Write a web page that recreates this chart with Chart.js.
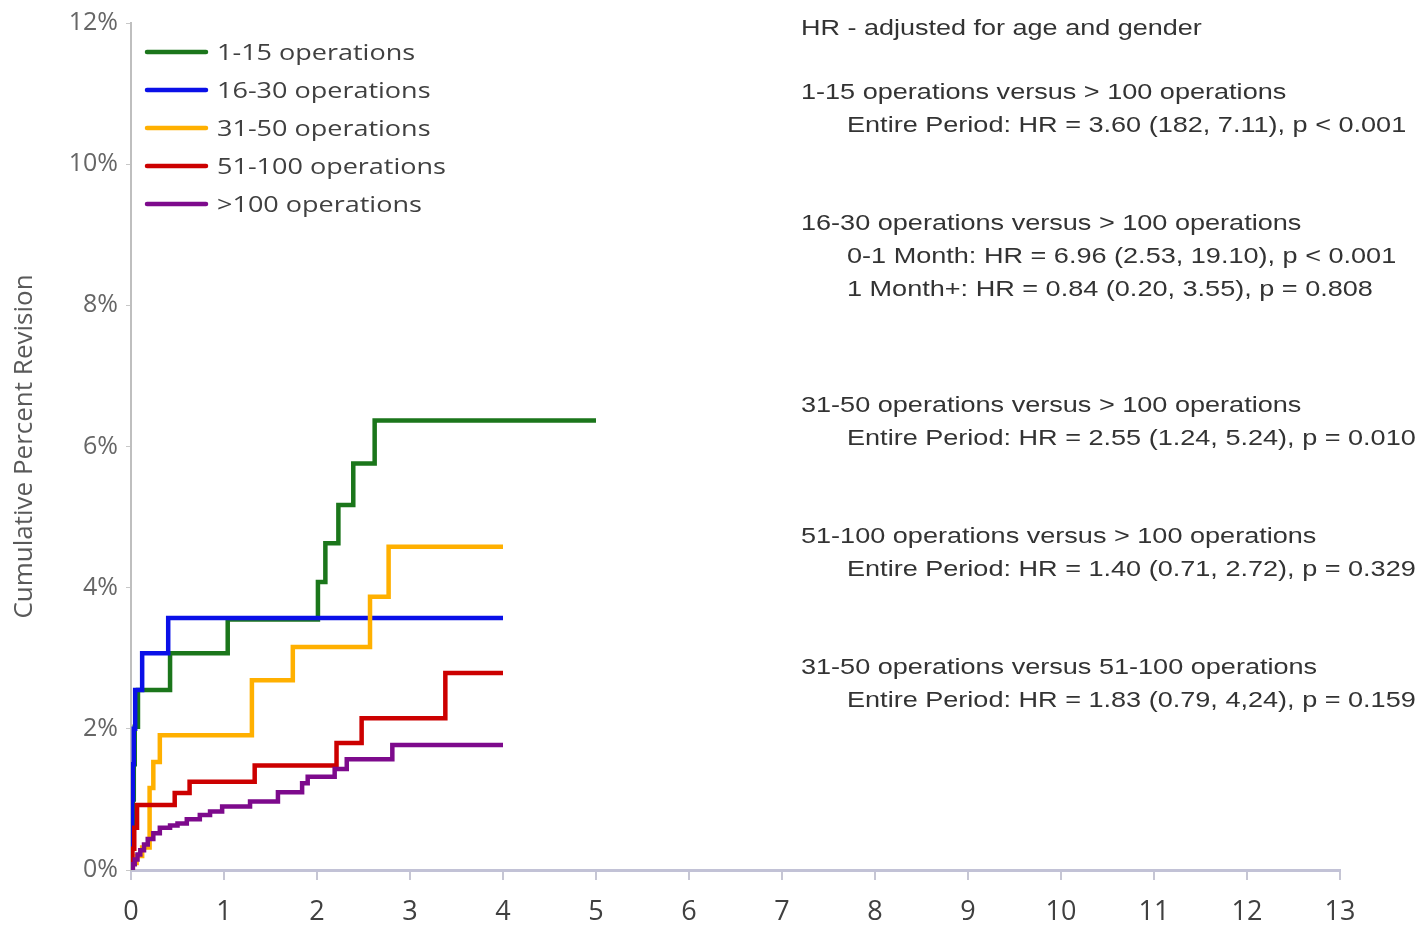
<!DOCTYPE html>
<html>
<head>
<meta charset="utf-8">
<title>Cumulative Percent Revision by surgeon volume</title>
<script src="https://cdn.jsdelivr.net/npm/chart.js@4/dist/chart.umd.min.js"></script>
<style>
  html, body { margin: 0; padding: 0; background: #ffffff; }
  canvas { display: block; }
</style>
</head>
<body>
<canvas id="chart" width="1423" height="926"></canvas>
<script>
// Series labels and colours
const seriesLabels = ['1-15 operations', '16-30 operations', '31-50 operations', '51-100 operations', '>100 operations'];
const seriesColors = ['#1b761b', '#0a10e8', '#ffb000', '#cc0000', '#7d0a8c'];

// Kaplan-Meier style step data: time (x) at which the cumulative revision (%) becomes the value
const ops1to15Time   = [0, 0.01, 0.02, 0.03, 0.04, 0.075, 0.42, 1.04, 2.01, 2.09, 2.23, 2.39, 2.62, 5.0];
const ops1to15Value  = [0, 0.5, 1.0, 1.5, 2.03, 2.55, 3.07, 3.55, 4.08, 4.63, 5.17, 5.76, 6.37, 6.37];

const ops16to30Time  = [0, 0.005, 0.012, 0.02, 0.03, 0.045, 0.12, 0.4, 4.0];
const ops16to30Value = [0, 0.5, 1.0, 1.5, 2.0, 2.55, 3.07, 3.57, 3.57];

const ops31to50Time  = [0, 0.02, 0.06, 0.12, 0.2, 0.24, 0.31, 1.3, 1.74, 2.57, 2.77, 4.0];
const ops31to50Value = [0, 0.1, 0.2, 0.32, 1.16, 1.53, 1.91, 2.69, 3.16, 3.87, 4.58, 4.58];

const ops51to100Time  = [0, 0.015, 0.035, 0.065, 0.47, 0.63, 1.33, 2.21, 2.48, 3.38, 4.0];
const ops51to100Value = [0, 0.3, 0.6, 0.92, 1.09, 1.25, 1.48, 1.8, 2.15, 2.79, 2.79];

const opsOver100Time  = [0, 0.02, 0.04, 0.07, 0.1, 0.14, 0.18, 0.24, 0.31, 0.42, 0.5, 0.6, 0.74, 0.85, 0.98, 1.28, 1.58, 1.84, 1.9, 2.19, 2.32, 2.81, 4.0];
const opsOver100Value = [0, 0.08, 0.15, 0.22, 0.28, 0.36, 0.44, 0.52, 0.6, 0.63, 0.66, 0.72, 0.78, 0.83, 0.9, 0.97, 1.1, 1.23, 1.32, 1.43, 1.57, 1.77, 1.77];

// Axis ticks
const xTicks = [0, 1, 2, 3, 4, 5, 6, 7, 8, 9, 10, 11, 12, 13];
const yTicks = [0, 2, 4, 6, 8, 10, 12];

// Hazard-ratio notes shown to the right of the curves
const hrHeading = 'HR - adjusted for age and gender';
const hrBlocks = [
  ['1-15 operations versus > 100 operations', 'Entire Period: HR = 3.60 (182, 7.11), p < 0.001'],
  ['16-30 operations versus > 100 operations', '0-1 Month: HR = 6.96 (2.53, 19.10), p < 0.001', '1 Month+: HR = 0.84 (0.20, 3.55), p = 0.808'],
  ['31-50 operations versus > 100 operations', 'Entire Period: HR = 2.55 (1.24, 5.24), p = 0.010'],
  ['51-100 operations versus > 100 operations', 'Entire Period: HR = 1.40 (0.71, 2.72), p = 0.329'],
  ['31-50 operations versus 51-100 operations', 'Entire Period: HR = 1.83 (0.79, 4,24), p = 0.159']
];

const seriesTimes  = [ops1to15Time, ops16to30Time, ops31to50Time, ops51to100Time, opsOver100Time];
const seriesValues = [ops1to15Value, ops16to30Value, ops31to50Value, ops51to100Value, opsOver100Value];

const datasets = seriesLabels.map((label, i) => ({
  label,
  data: seriesTimes[i].map((t, k) => ({ x: t, y: seriesValues[i][k] })),
  borderColor: seriesColors[i],
  backgroundColor: seriesColors[i],
  borderWidth: 4.5,
  pointRadius: 0,
  showLine: true,
  stepped: 'before',
  fill: false,
  order: seriesLabels.length - 1 - i   // later groups drawn on top
}));

// Draw text stretched horizontally
function wideText(ctx, txt, x, y, sx) {
  ctx.save();
  ctx.translate(x, y);
  ctx.scale(sx, 1);
  ctx.fillText(txt, 0, 0);
  ctx.restore();
}

const notesAndLegend = {
  id: 'notesAndLegend',
  afterDraw(chart) {
    const ctx = chart.ctx;
    // legend inside the plot area, top-left
    ctx.save();
    ctx.textBaseline = 'middle';
    ctx.textAlign = 'left';
    ctx.font = '22.5px "Open Sans"';
    chart.data.datasets.forEach((ds, i) => {
      const y = 52 + i * 38;
      ctx.strokeStyle = ds.borderColor;
      ctx.lineWidth = 4.5;
      ctx.lineCap = 'round';
      ctx.beginPath();
      ctx.moveTo(147, y);
      ctx.lineTo(206, y);
      ctx.stroke();
      ctx.fillStyle = '#404040';
      wideText(ctx, ds.label, 217, y + 2, 1.2);
    });

    // hazard-ratio notes
    ctx.fillStyle = '#333333';
    ctx.font = '22.5px "Liberation Sans"';
    wideText(ctx, hrHeading, 801, 29, 1.2);
    const blockTops = [93, 224, 406, 537, 668];
    hrBlocks.forEach((lines, b) => {
      lines.forEach((line, k) => {
        const x = k === 0 ? 801 : 847;
        const y = blockTops[b] + k * 33;
        wideText(ctx, line, x, y, 1.203);
      });
    });
    ctx.restore();
  }
};

new Chart(document.getElementById('chart'), {
  type: 'scatter',
  data: { datasets },
  options: {
    responsive: false,
    animation: false,
    layout: { padding: { top: 23, right: 83, left: 0, bottom: 0 } },
    plugins: {
      legend: { display: false },
      tooltip: { enabled: false }
    },
    scales: {
      x: {
        type: 'linear',
        min: xTicks[0],
        max: xTicks[xTicks.length - 1],
        afterBuildTicks: s => { s.ticks = xTicks.map(v => ({ value: v })); },
        afterFit: s => { s.height = 56; },
        ticks: {
          color: '#404040',
          font: { family: '"Open Sans"', size: 27 },
          padding: 16,
          maxRotation: 0,
          autoSkip: false
        },
        grid: { drawOnChartArea: false, drawTicks: true, tickLength: 10, color: '#c6c6d4', lineWidth: 2 },
        border: { display: true, color: '#c2c2d6', width: 3 }
      },
      y: {
        type: 'linear',
        min: yTicks[0],
        max: yTicks[yTicks.length - 1],
        afterBuildTicks: s => { s.ticks = yTicks.map(v => ({ value: v })); },
        afterFit: s => { s.width = 131; },
        ticks: {
          color: '#666666',
          font: { family: '"Open Sans"', size: 25 },
          padding: 8,
          callback: v => v + '%'
        },
        grid: { drawOnChartArea: false, drawTicks: true, tickLength: 5, color: '#c8c8c8', lineWidth: 1 },
        border: { display: true, color: '#bfbfbf', width: 2 },
        title: {
          display: true,
          text: 'Cumulative Percent Revision',
          color: '#595959',
          font: { family: '"Open Sans"', size: 26 },
          padding: { top: 9, bottom: 0 }
        }
      }
    }
  },
  plugins: [notesAndLegend]
});
</script>
</body>
</html>
